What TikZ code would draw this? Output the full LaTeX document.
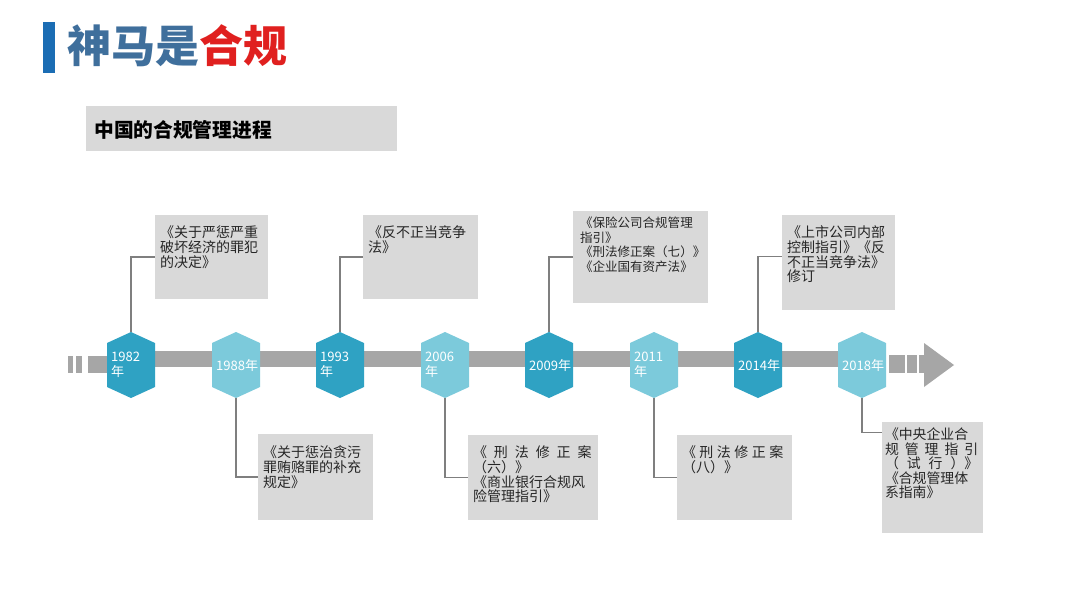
\documentclass[tikz,border=0pt]{standalone}
\usepackage{fontspec}
\setmainfont{Noto Sans CJK SC}
\usetikzlibrary{calc,fit}
\definecolor{hexdark}{HTML}{2FA2C3}
\definecolor{hexlight}{HTML}{7CCADB}
\definecolor{bargray}{HTML}{A6A6A6}
\definecolor{boxgray}{HTML}{D9D9D9}
\definecolor{linkgray}{HTML}{7F7F7F}
\definecolor{notetext}{HTML}{262626}
\definecolor{titlebar}{HTML}{1B6DB4}
\definecolor{titleblue}{HTML}{3F6F9C}
\definecolor{titlered}{HTML}{E0201F}
\tikzset{
  hexyear/.style={rectangle, minimum width=36pt, minimum height=49.5pt,
                  text width=30pt, inner xsep=3pt, inner ysep=0pt, align=left,
                  text=white, font=\fontsize{9.8}{11}\selectfont,
                  path picture={
                    \fill[#1] (path picture bounding box.north)
                      -- ($(path picture bounding box.north east)!0.1667!(path picture bounding box.south east)$)
                      -- ($(path picture bounding box.north east)!0.8333!(path picture bounding box.south east)$)
                      -- (path picture bounding box.south)
                      -- ($(path picture bounding box.north west)!0.8333!(path picture bounding box.south west)$)
                      -- ($(path picture bounding box.north west)!0.1667!(path picture bounding box.south west)$)
                      -- cycle;}},
  callout/.style={rectangle, fill=boxgray, inner sep=0pt},
  note/.style={anchor=north west, inner sep=0pt, align=left, text=notetext,
               font=\fontsize{10.5}{11}\selectfont},
  link/.style={draw=linkgray, line width=0.8pt},
}
\begin{document}
\begin{tikzpicture}[x=0.75pt, y=-0.75pt]

\fill[white] (0,0) rectangle (1080,608);
\useasboundingbox (0,0) rectangle (1080,608);

% -------------------- Title --------------------
\fill[titlebar] (43,22) rectangle (55,73);
\node[anchor=west, inner sep=0pt, font=\fontsize{33}{38}\selectfont\bfseries] (title) at (67,46)
    {\textcolor{titleblue}{神马是}\textcolor{titlered}{合规}};

\node[callout, fit={(86,106) (397,151)}] (head) {};
\node[anchor=west, inner sep=0pt, font=\fontsize{14.8}{17}\selectfont\bfseries] (headtext) at (94,130)
    {中国的合规管理进程};

% -------------------- Time bar --------------------
\fill[bargray] (68,356) rectangle (73,373);
\fill[bargray] (76,356) rectangle (82,373);
\fill[bargray] (88,356) rectangle (110,373);
\fill[bargray] (110,351) rectangle (880,367);
\fill[bargray] (889,355) rectangle (905,373);
\fill[bargray] (907,355) rectangle (917,373);
\fill[bargray] (919,355) rectangle (925,373);
\fill[bargray] (924,343) -- (954,365) -- (924,387) -- cycle;

% -------------------- Years --------------------
\node[hexyear=hexdark]  (h1982) at (131,365) {1982\\年};
\node[hexyear=hexlight] (h1988) at (236,365) {1988年};
\node[hexyear=hexdark]  (h1993) at (340,365) {1993\\年};
\node[hexyear=hexlight] (h2006) at (445,365) {2006\\年};
\node[hexyear=hexdark]  (h2009) at (549,365) {2009年};
\node[hexyear=hexlight] (h2011) at (654,365) {2011\\年};
\node[hexyear=hexdark]  (h2014) at (758,365) {2014年};
\node[hexyear=hexlight] (h2018) at (862,365) {2018年};

% -------------------- Upper notes --------------------
\node[callout, fit={(155,215) (268,299)}] (b1982) {};
\node[note] (n1982) at ($(b1982.north west)+(5,11)$)
    {《关于严惩严重\\破坏经济的罪犯\\的决定》};
\draw[link] (h1982.north) |- (b1982.west);

\node[callout, fit={(363,215) (478,299)}] (b1993) {};
\node[note] (n1993) at ($(b1993.north west)+(5,11)$)
    {《反不正当竞争\\法》};
\draw[link] (h1993.north) |- (b1993.west);

\node[callout, fit={(573,211) (708,303)}] (b2009) {};
\node[note, font=\fontsize{9.4}{10.9}\selectfont] (n2009) at ($(b2009.north west)+(7,6)$)
    {《保险公司合规管理\\指引》\\《刑法修正案（七）》\\《企业国有资产法》};
\draw[link] (h2009.north) |- (b2009.west);

\node[callout, fit={(782,215) (895,310)}] (b2014) {};
\node[note] (n2014) at ($(b2014.north west)+(5,11)$)
    {《上市公司内部\\控制指引》《反\\不正当竞争法》\\修订};
\draw[link] (h2014.north) |- ($(b2014.north west)+(0,42)$);

% -------------------- Lower notes --------------------
\node[callout, fit={(258,434) (373,520)}] (b1988) {};
\node[note] (n1988) at ($(b1988.north west)+(5,12)$)
    {《关于惩治贪污\\罪贿赂罪的补充\\规定》};
\draw[link] (h1988.south) |- (b1988.west);

\node[callout, fit={(468,435) (598,520)}] (b2006) {};
\node[note] (n2006) at ($(b2006.north west)+(5,11)$)
    {\makebox[89pt][s]{《 刑 法 修 正 案}\\（六）》\\《商业银行合规风\\险管理指引》};
\draw[link] (h2006.south) |- (b2006.west);

\node[callout, fit={(677,435) (792,520)}] (b2011) {};
\node[note] (n2011) at ($(b2011.north west)+(5,11)$)
    {\makebox[76pt][s]{《 刑 法 修 正 案}\\（八）》};
\draw[link] (h2011.south) |- (b2011.west);

\node[callout, fit={(882,422) (983,533)}] (b2018) {};
\node[note, font=\fontsize{10.4}{10.9}\selectfont] (n2018) at ($(b2018.north west)+(3,6)$)
    {《中央企业合\\\makebox[70pt][s]{规 管 理 指 引}\\\makebox[70pt][s]{（ 试 行 ）》}\\《合规管理体\\系指南》};
\draw[link] (h2018.south) |- ($(b2018.north west)+(0,11)$);

\end{tikzpicture}
\end{document}
